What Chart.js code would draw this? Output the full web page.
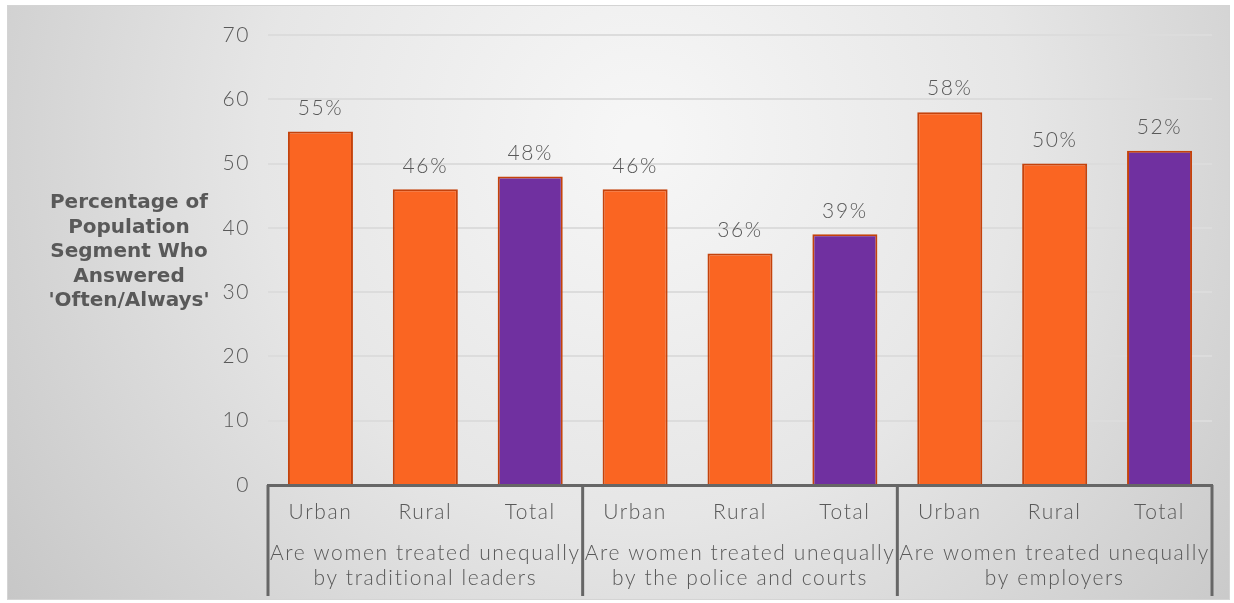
<!DOCTYPE html>
<html lang="en">
<head>
<meta charset="UTF-8">
<title>Are women treated unequally</title>
<script src="https://cdn.jsdelivr.net/npm/chart.js"></script>
<style>
    html, body { margin: 0; padding: 0; background: #fff; }
</style>
</head>
<body>
<canvas id="chart" width="1234" height="603"></canvas>
<script>
// data
const categories = ['Urban', 'Rural', 'Total', 'Urban', 'Rural', 'Total', 'Urban', 'Rural', 'Total'];
const groups = [
    ['Are women treated unequally', 'by traditional leaders'],
    ['Are women treated unequally', 'by the police and courts'],
    ['Are women treated unequally', 'by employers']
];
const values = [55, 46, 48, 46, 36, 39, 58, 50, 52];
const yTitle = ['Percentage of', 'Population', 'Segment Who', 'Answered', "'Often/Always'"];
const yMin = 0, yMax = 70, yStep = 10;

const ORANGE = '#FA6522';
const PURPLE = '#7030A0';
const EDGE = '#C4420B';
const TEXT = '#595959';
const FONT = 'Lato, "DejaVu Sans", sans-serif';
const SPACING = '1.6px';

const barColors = categories.map(c => c === 'Total' ? PURPLE : ORANGE);

// gradient panel behind everything
const backdrop = {
    id: 'backdrop',
    beforeDraw(chart) {
        const ctx = chart.ctx;
        ctx.save();
        ctx.fillStyle = '#fff';
        ctx.fillRect(0, 0, chart.width, chart.height);
        const g = ctx.createRadialGradient(640, 140, 20, 640, 140, 820);
        g.addColorStop(0, '#f6f6f6');
        g.addColorStop(0.45, '#e6e6e6');
        g.addColorStop(1, '#c4c4c4');
        ctx.fillStyle = g;
        ctx.fillRect(7, 5, 1223, 595);
        ctx.strokeStyle = '#d4d4d4';
        ctx.lineWidth = 1;
        ctx.strokeRect(7.5, 5.5, 1222, 594);
        ctx.restore();
        // wider text, closer to the original typeface
        ctx.letterSpacing = SPACING;
    }
};

// value labels, y title, group labels and separators
const extras = {
    id: 'extras',
    afterDatasetsDraw(chart) {
        const ctx = chart.ctx;
        const meta = chart.getDatasetMeta(0);
        ctx.save();
        ctx.fillStyle = TEXT;
        ctx.font = '300 21px ' + FONT;
        ctx.textAlign = 'center';
        ctx.textBaseline = 'bottom';
        meta.data.forEach((bar, i) => {
            ctx.fillText(values[i] + '%', bar.x, bar.y - 13);
        });
        ctx.restore();
    },
    afterDraw(chart) {
        const ctx = chart.ctx;
        const area = chart.chartArea;
        ctx.save();
        // y title
        ctx.letterSpacing = '0px';
        ctx.fillStyle = TEXT;
        ctx.font = 'bold 20px "DejaVu Sans", sans-serif';
        ctx.textAlign = 'center';
        ctx.textBaseline = 'middle';
        yTitle.forEach((line, i) => ctx.fillText(line, 129, 203 + i * 24.5));

        // group separators
        const step = (area.right - area.left) / categories.length;
        ctx.strokeStyle = '#666';
        ctx.lineWidth = 3;
        for (let g = 0; g <= groups.length; g++) {
            const gx = area.left + g * 3 * step;
            ctx.beginPath();
            ctx.moveTo(gx, area.bottom);
            ctx.lineTo(gx, 596);
            ctx.stroke();
        }
        // group labels
        ctx.letterSpacing = SPACING;
        ctx.font = '300 21px ' + FONT;
        groups.forEach((lines, g) => {
            const cx = area.left + (g * 3 + 1.5) * step;
            lines.forEach((line, i) => ctx.fillText(line, cx, 553 + i * 25));
        });
        ctx.restore();
    }
};

new Chart(document.getElementById('chart'), {
    type: 'bar',
    data: {
        labels: categories,
        datasets: [{
            data: values,
            backgroundColor: barColors,
            borderColor: EDGE,
            borderWidth: 2,
            categoryPercentage: 1,
            barPercentage: 0.62
        }]
    },
    options: {
        responsive: false,
        animation: false,
        layout: { padding: { left: 7, right: 22, top: 35, bottom: 8 } },
        plugins: {
            legend: { display: false },
            tooltip: { enabled: false }
        },
        scales: {
            x: {
                grid: { display: false },
                border: { display: true, color: '#666', width: 3 },
                ticks: { color: TEXT, font: { family: FONT, size: 21, weight: 300 }, padding: 7, maxRotation: 0 },
                afterFit(scale) { scale.height = 110; }
            },
            y: {
                min: yMin,
                max: yMax,
                ticks: { stepSize: yStep, color: TEXT, font: { family: FONT, size: 21, weight: 300 }, padding: 18 },
                grid: { color: '#dcdcdc', lineWidth: 2, drawTicks: false },
                border: { display: false },
                afterFit(scale) {
                    scale.width = 261;
                    scale.paddingTop = 0;
                    scale.paddingBottom = 0;
                }
            }
        }
    },
    plugins: [backdrop, extras]
});
</script>
</body>
</html>
